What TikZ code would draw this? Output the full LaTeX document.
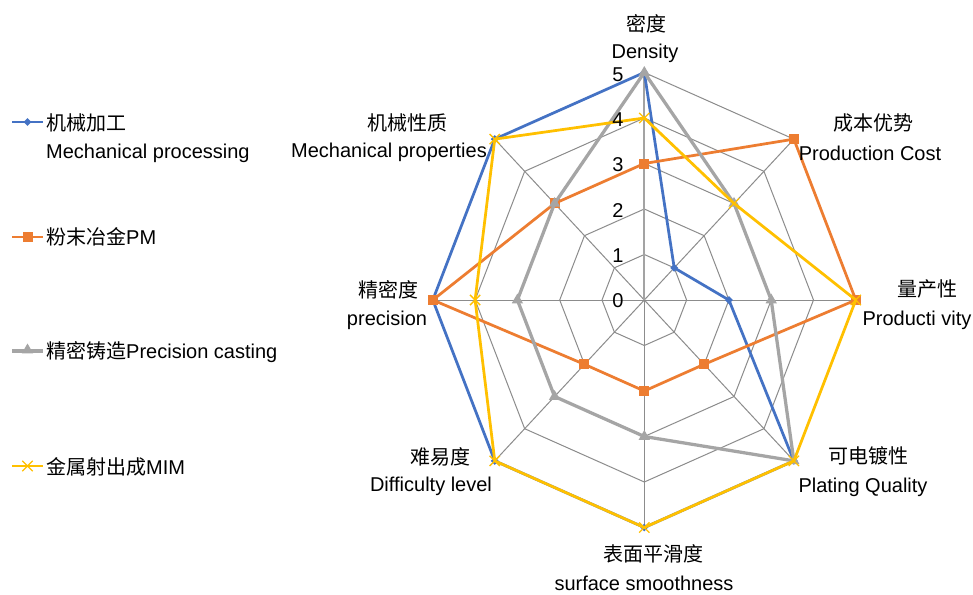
\documentclass[tikz,border=0pt]{standalone}
\usepackage{fontspec}
\setmainfont{Liberation Sans}
\newfontfamily\cjk{Noto Sans CJK SC}
\usetikzlibrary{shapes.geometric,shapes.misc}
\definecolor{cblue}{HTML}{4472C4}
\definecolor{corange}{HTML}{ED7D31}
\definecolor{cgray}{HTML}{A5A5A5}
\definecolor{cyellow}{HTML}{FFC000}
\definecolor{cgrid}{HTML}{8C8C8C}
\begin{document}
\begin{tikzpicture}[x=1pt,y=-1pt,
  font=\fontsize{20}{24}\selectfont,
  lbl/.style={inner sep=0pt},
  gridline/.style={cgrid,line width=1pt},
  sb/.style={cblue,line width=2.75pt,line join=round},
  so/.style={corange,line width=2.75pt,line join=round},
  sg/.style={cgray,line width=3.25pt,line join=round},
  sy/.style={cyellow,line width=2.75pt,line join=round},
  mkb/.style={diamond,fill=cblue,inner sep=0pt,minimum width=8pt,minimum height=8pt},
  mko/.style={rectangle,fill=corange,inner sep=0pt,minimum size=10pt},
  mkg/.style={regular polygon,regular polygon sides=3,fill=cgray,inner sep=0pt,minimum size=13pt},
  mky/.style={cross out,draw=cyellow,line width=1.3pt,inner sep=0pt,minimum size=9pt}]
\useasboundingbox (0,0) rectangle (973,594);
\fill[white] (0,0) rectangle (973,594);
\coordinate (O) at (644.3,300);
\begin{scope}[shift={(O)},x=42.3pt,y=45.5pt]
  % grid
  \foreach \r in {1,...,5}
    \draw[gridline] (90:\r) -- (45:\r) -- (0:\r) -- (-45:\r) -- (-90:\r) -- (-135:\r) -- (180:\r) -- (135:\r) -- cycle;
  \foreach \a in {45,0,-45,-90,-135,180,135}
    \draw[gridline] (0,0) -- (\a:5);
  \draw[cgrid!80,line width=1.8pt] (0,0) -- (90:5);
  % Mechanical processing
  \draw[sb] (90:5) -- (45:1) -- (0:2) -- (-45:5) -- (-90:5) -- (-135:5) -- (180:5) -- (135:5) -- cycle;
  \foreach \a/\v [count=\i] in {90/5,45/1,0/2,-45/5,-90/5,-135/5,180/5,135/5}
    \node[mkb] (b\i) at (\a:\v) {};
  % PM
  \draw[so] (90:3) -- (45:5) -- (0:5) -- (-45:2) -- (-90:2) -- (-135:2) -- (180:5) -- (135:3) -- cycle;
  \foreach \a/\v [count=\i] in {90/3,45/5,0/5,-45/2,-90/2,-135/2,180/5,135/3}
    \node[mko] (o\i) at (\a:\v) {};
  % Precision casting
  \draw[sg] (90:5) -- (45:3) -- (0:3) -- (-45:5) -- (-90:3) -- (-135:3) -- (180:3) -- (135:3) -- cycle;
  \foreach \a/\v [count=\i] in {90/5,45/3,0/3,-45/5,-90/3,-135/3,180/3,135/3}
    \node[mkg] (g\i) at (\a:\v) {};
  % MIM
  \draw[sy] (90:4) -- (45:3) -- (0:5) -- (-45:5) -- (-90:5) -- (-135:5) -- (180:4) -- (135:5) -- cycle;
  \foreach \a/\v [count=\i] in {90/4,45/3,0/5,-45/5,-90/5,-135/5,180/4,135/5}
    \node[mky] (y\i) at (\a:\v) {};
\end{scope}
% axis numbers
\foreach \v in {0,...,5}
  \node[lbl] (n\v) at (618,{301-45.3*\v}) {\v};
% category labels
\node[lbl] (c1a) at (646,24) {\cjk 密度};
\node[lbl] (c1b) at (645,53) {Density};
\node[lbl] (c2a) at (873,123) {\cjk 成本优势};
\node[lbl] (c2b) at (870,153) {Production Cost};
\node[lbl] (c3a) at (927,289) {\cjk 量产性};
\node[lbl] (c3b) at (917,320) {Producti vity};
\node[lbl] (c4a) at (868,456) {\cjk 可电镀性};
\node[lbl] (c4b) at (863,487) {Plating Quality};
\node[lbl] (c5a) at (653,554) {\cjk 表面平滑度};
\node[lbl] (c5b) at (644,583) {surface smoothness};
\node[lbl] (c6a) at (440,457) {\cjk 难易度};
\node[lbl] (c6b) at (431,486) {Difficulty level};
\node[lbl] (c7a) at (388,290) {\cjk 精密度};
\node[lbl] (c7b) at (387,320) {precision};
\node[lbl] (c8a) at (407,123) {\cjk 机械性质};
\node[lbl] (c8b) at (389,152) {Mechanical properties};
% legend
\coordinate (l1s) at (12,122); \coordinate (l1e) at (43,122);
\draw[sb] (l1s) -- (l1e); \node[mkb] (l1m) at (27.5,122) {};
\node[lbl,anchor=west] (t1a) at (46,123) {\cjk 机械加工};
\node[lbl,anchor=west] (t1b) at (46,153) {Mechanical processing};
\coordinate (l2s) at (12,237); \coordinate (l2e) at (43,237);
\draw[so] (l2s) -- (l2e); \node[mko] (l2m) at (27.5,237) {};
\node[lbl,anchor=west] (t2) at (46,237) {{\cjk 粉末冶金}PM};
\coordinate (l3s) at (12,351); \coordinate (l3e) at (43,351);
\draw[sg] (l3s) -- (l3e); \node[mkg] (l3m) at (27.5,350) {};
\node[lbl,anchor=west] (t3) at (46,352) {{\cjk 精密铸造}Precision casting};
\coordinate (l4s) at (12,466); \coordinate (l4e) at (43,466);
\draw[sy] (l4s) -- (l4e); \node[mky] (l4m) at (27.5,466) {};
\node[lbl,anchor=west] (t4) at (46,467) {{\cjk 金属射出成}MIM};
\end{tikzpicture}
\end{document}
